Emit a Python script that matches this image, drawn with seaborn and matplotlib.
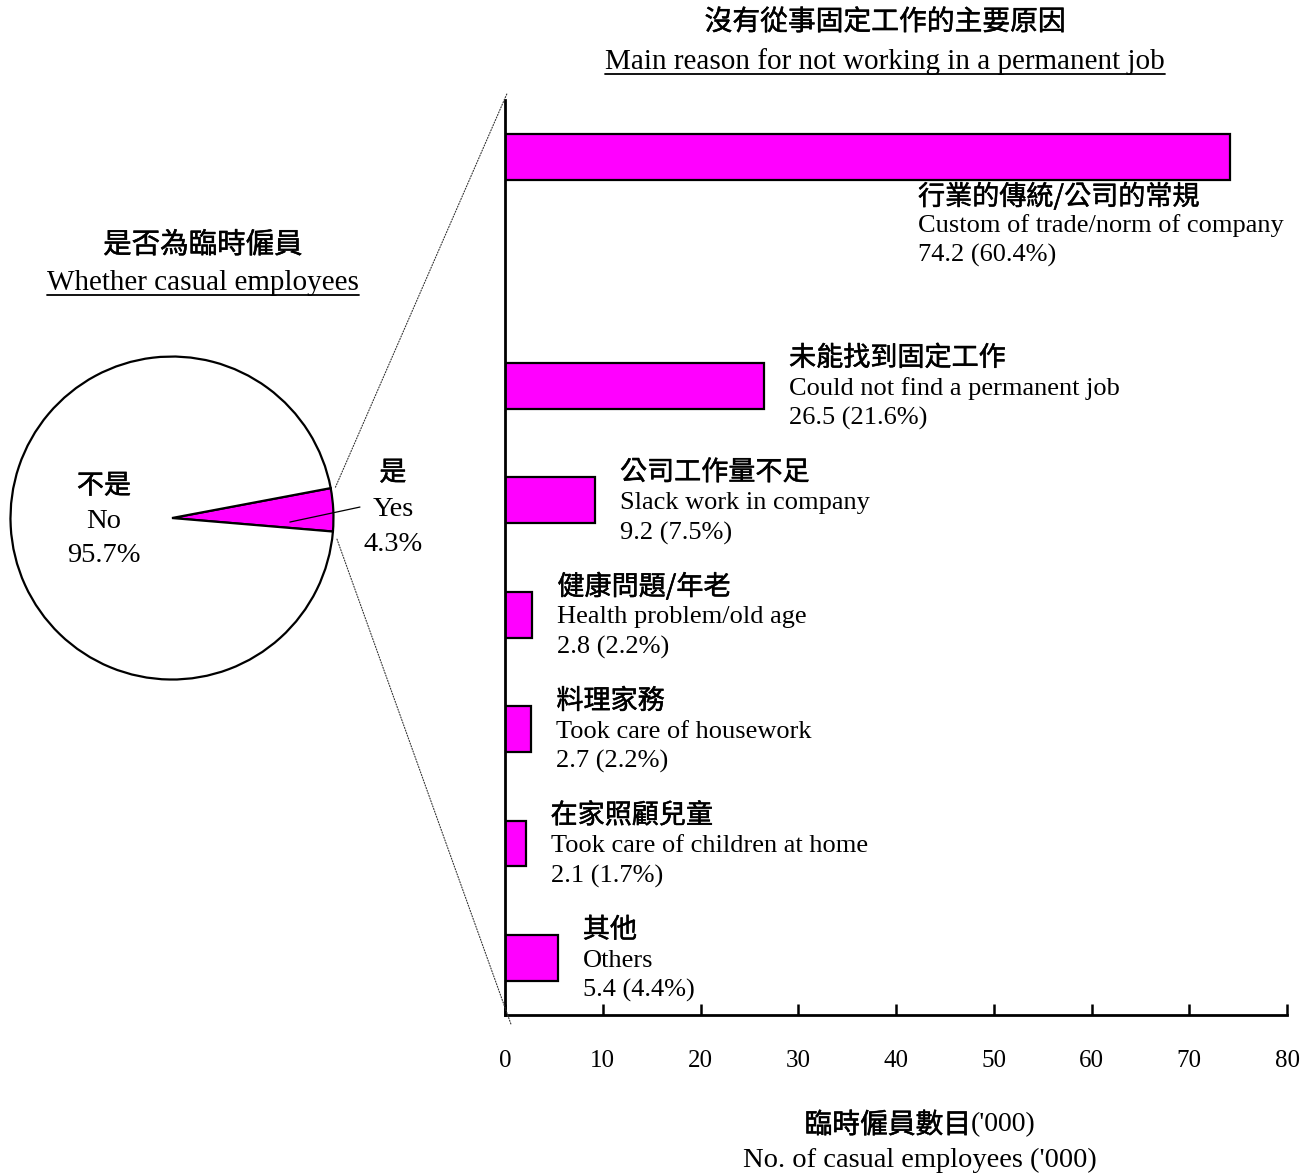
import matplotlib
matplotlib.use("Agg")
import matplotlib.pyplot as plt
import matplotlib.patheffects as pe
from matplotlib.lines import Line2D
from matplotlib.patches import ConnectionPatch
import seaborn as sns
import pandas as pd
import numpy as np

sns.set_style("white")
plt.rcParams['font.family'] = ['Liberation Serif', 'Noto Sans CJK TC', 'DejaVu Sans']
plt.rcParams['text.color'] = 'black'
plt.rcParams['xtick.color'] = 'black'

CJK = 'Noto Sans CJK TC'
SERIF = 'Liberation Serif'
MAGENTA = '#ff00ff'
# regular CJK face thickened a little (medium-like weight)
CJK_KW = dict(family=CJK, path_effects=[pe.withStroke(linewidth=0.35, foreground='black')])

# main reason for not working in a permanent job ('000 and %)
reason_cn = ['行業的傳統/公司的常規', '未能找到固定工作', '公司工作量不足', '健康問題/年老',
             '料理家務', '在家照顧兒童', '其他']
reason_en = ['Custom of trade/norm of company', 'Could not find a permanent job',
             'Slack work in company', 'Health problem/old age', 'Took care of housework',
             'Took care of children at home', 'Others']
reason_count = [74.2, 26.5, 9.2, 2.8, 2.7, 2.1, 5.4]
reason_pct = [60.4, 21.6, 7.5, 2.2, 2.2, 1.7, 4.4]

# whether casual employees (%)
casual_cn = ['是', '不是']
casual_en = ['Yes', 'No']
casual_pct = [4.3, 95.7]

x_ticks = [0, 10, 20, 30, 40, 50, 60, 70, 80]

fig = plt.figure(figsize=(13.06, 11.74), dpi=100)

# ---- bar chart ----
ax = fig.add_axes([0.3867, 0.1354, 0.5988, 0.7794])
df = pd.DataFrame({'reason': reason_en, 'count': reason_count})
# empty slot after the first bar leaves room for its label
order = [reason_en[0], ''] + reason_en[1:]
sns.barplot(data=df, x='count', y='reason', order=order, orient='h', color=MAGENTA,
            saturation=1, edgecolor='black', linewidth=1.6, width=0.4, errorbar=None, ax=ax)
ax.set_xlim(0, 80)
ax.set_ylim(len(order) - 0.5, -0.5)
ax.set_xticks(x_ticks)
ax.set_xticklabels([str(t) for t in x_ticks], family=SERIF)
ax.tick_params(axis='x', bottom=True, direction='in', length=8, width=1.8, pad=25,
               labelsize=18, colors='black')
ax.tick_params(axis='y', left=False, labelleft=False)
ax.set_xlabel('')
ax.set_ylabel('')
for s in ['top', 'right']:
    ax.spines[s].set_visible(False)
for s in ['left', 'bottom']:
    ax.spines[s].set_linewidth(2)
    ax.spines[s].set_color('black')

pos = {lab: i for i, lab in enumerate(order)}
for i in range(len(reason_en)):
    y = pos[reason_en[i]]
    if i == 0:
        xy, dx, dys = (42.25, y), 0, [-28.5, -49.5, -71]
    else:
        xy, dx, dys = (reason_count[i], y), 18, [20, -2, -23.5]
    ax.annotate(reason_cn[i], xy, xytext=(dx, dys[0]), textcoords='offset points',
                ha='left', va='center', fontsize=19.5, **CJK_KW)
    ax.annotate(reason_en[i], xy, xytext=(dx, dys[1]), textcoords='offset points',
                ha='left', va='center', fontsize=19, family=SERIF)
    ax.annotate(f'{reason_count[i]:.1f} ({reason_pct[i]:.1f}%)', xy, xytext=(dx, dys[2]),
                textcoords='offset points', ha='left', va='center', fontsize=19, family=SERIF)

# ---- pie chart ----
axp = fig.add_axes([0.00804, 0.4212, 0.2473, 0.2751])
wedges, _ = axp.pie(casual_pct, colors=[MAGENTA, 'white'], startangle=-4.8,
                    wedgeprops=dict(edgecolor='black', linewidth=1.6))
for w in wedges:
    w.set_clip_on(False)
axp.set_xlim(-1, 1)
axp.set_ylim(-1, 1)
axp.set_aspect('equal')
axp.axis('off')

axp.text(1.368, 0.279, casual_cn[0], ha='center', va='center', fontsize=19.5, **CJK_KW)
axp.text(1.368, 0.05, casual_en[0], ha='center', va='center', fontsize=20.5, family=SERIF)
axp.text(1.368, -0.167, f'{casual_pct[0]:.1f}%', ha='center', va='center', fontsize=20.5,
         family=SERIF)
axp.text(-0.421, 0.198, casual_cn[1], ha='center', va='center', fontsize=19.5, **CJK_KW)
axp.text(-0.421, -0.019, casual_en[1], ha='center', va='center', fontsize=20.5, family=SERIF)
axp.text(-0.421, -0.229, f'{casual_pct[1]:.1f}%', ha='center', va='center', fontsize=20.5,
         family=SERIF)
axp.plot([0.73, 1.164], [-0.025, 0.068], color='black', lw=0.9, clip_on=False)

# dotted connectors from the "Yes" slice to the bar chart
t1, t2 = np.deg2rad(wedges[0].theta1 - 2.5), np.deg2rad(wedges[0].theta2)
for ang, xyb in [(t2, (0.003, 1.008)), (t1, (0.008, -0.011))]:
    con = ConnectionPatch(xyA=(1.03 * np.cos(ang), 1.03 * np.sin(ang)), coordsA=axp.transData,
                          xyB=xyb, coordsB=ax.transAxes, linestyle=(0, (1, 1.5)),
                          lw=0.8, color='#333333')
    fig.add_artist(con)

# ---- titles ----
def underline(t):
    fig.canvas.draw()
    r = fig.canvas.get_renderer()
    bb = t.get_window_extent(renderer=r).transformed(fig.transFigure.inverted())
    fig.add_artist(Line2D([bb.x0, bb.x1], [bb.y0 + 0.001, bb.y0 + 0.001],
                          transform=fig.transFigure, color='black', lw=1.3))

fig.text(0.6776, 0.9813, '沒有從事固定工作的主要原因', ha='center', va='center',
         fontsize=20, **CJK_KW)
t = fig.text(0.6776, 0.9472, 'Main reason for not working in a permanent job', ha='center',
             va='center', fontsize=21, family=SERIF)
underline(t)

fig.text(0.1554, 0.7913, '是否為臨時僱員', ha='center', va='center', fontsize=20.5, **CJK_KW)
t = fig.text(0.1554, 0.7589, 'Whether casual employees', ha='center', va='center',
             fontsize=21, family=SERIF)
underline(t)

# x label: Chinese part in the CJK face, ('000) in the serif face, centred together
tc = fig.text(0.0, 0.0417, '臨時僱員數目', ha='left', va='center', fontsize=20, **CJK_KW)
te = fig.text(0.0, 0.0417, "('000)", ha='left', va='center', fontsize=20, family=SERIF)
fig.canvas.draw()
r = fig.canvas.get_renderer()
wc = tc.get_window_extent(renderer=r).width / fig.bbox.width
we = te.get_window_extent(renderer=r).width / fig.bbox.width
x0 = 0.7045 - (wc + we) / 2
tc.set_x(x0)
te.set_x(x0 + wc)
fig.text(0.7045, 0.0119, "No. of casual employees ('000)", ha='center', va='center',
         fontsize=20.5, family=SERIF)

fig.savefig('out.png', dpi=100)
